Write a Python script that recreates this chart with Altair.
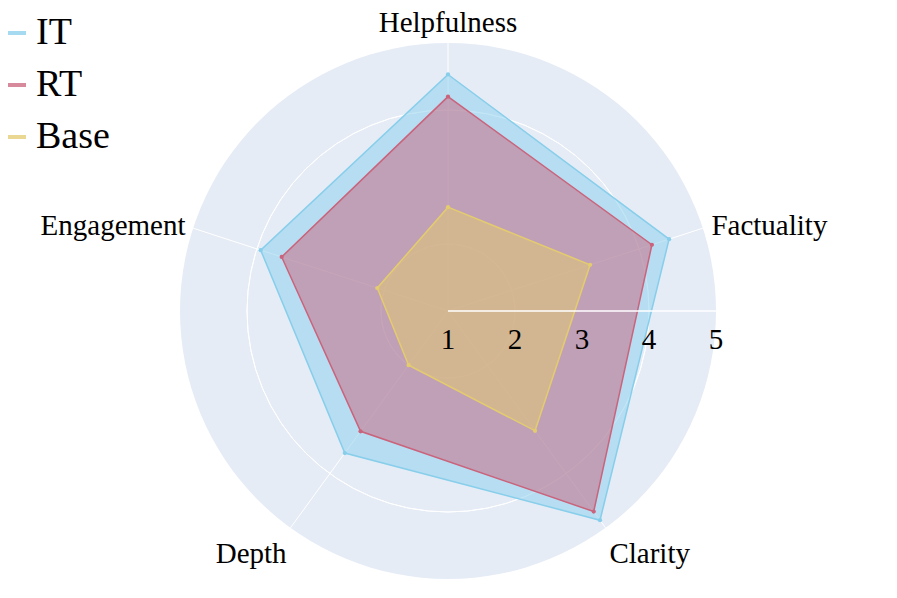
import math
import altair as alt
import pandas as pd

categories = ["Helpfulness", "Factuality", "Clarity", "Depth", "Engagement"]
models = ["IT", "RT", "Base"]
it_scores = [4.53, 4.47, 4.86, 3.62, 3.94]
rt_scores = [4.20, 4.20, 4.70, 3.22, 3.61]
base_scores = [2.55, 3.23, 3.21, 2.00, 2.11]
radial_ticks = [1, 2, 3, 4, 5]
grid_ticks = [2, 3, 4]
model_colors = ["#87CEEB", "#CA637C", "#E4CC6E"]

R_MIN, R_MAX = radial_ticks[0], radial_ticks[-1]
SPAN = R_MAX - R_MIN
PLOT = 536
FONT = "Liberation Serif"
N = len(categories)

rows = []
for m, vals in zip(models, [it_scores, rt_scores, base_scores]):
    for i, (c, v) in enumerate(zip(categories, vals)):
        rows.append({"model": m, "category": c, "value": v, "idx": i, "angle": i * 360 / N})
scores = pd.DataFrame(rows)
axes_df = pd.DataFrame({"category": categories, "idx": list(range(N)),
                        "angle": [i * 360 / N for i in range(N)]})
ticks_df = pd.DataFrame({"tick": radial_ticks})
grid_df = pd.DataFrame({"tick": grid_ticks})
disc_df = pd.DataFrame({"tick": [R_MAX]})

xs = alt.Scale(domain=[-SPAN, SPAN], nice=False, zero=False)
ys = alt.Scale(domain=[-SPAN, SPAN], nice=False, zero=False)
rs = alt.Scale(type="linear", domain=[0, SPAN], range=[0, PLOT / 2], zero=True, nice=False)
cs = alt.Scale(domain=models, range=model_colors)

legend = alt.Legend(orient="none", legendX=-182, legendY=-29, title=None,
                    symbolType="stroke", symbolSize=324, symbolStrokeWidth=4,
                    symbolOpacity=0.75, labelFont=FONT, labelFontSize=38,
                    labelColor="black", rowPadding=14, labelOffset=0, padding=0)

def X(f):
    return alt.X(f, type="quantitative", scale=xs, axis=None)

def Y(f):
    return alt.Y(f, type="quantitative", scale=ys, axis=None)

# background disc
disc = alt.Chart(disc_df).transform_calculate(rr=f"datum.tick - {R_MIN}").mark_arc(
    theta=0, theta2=2 * math.pi, color="#E5ECF6"
).encode(radius=alt.Radius("rr:Q", scale=rs))

# grid circles
grid = alt.Chart(grid_df).transform_calculate(rr=f"datum.tick - {R_MIN}").mark_arc(
    theta=0, theta2=2 * math.pi, filled=False, color="white", strokeWidth=1
).encode(radius=alt.Radius("rr:Q", scale=rs))

# angular grid lines
spokes = alt.Chart(axes_df).transform_calculate(
    x0="0", y0="0",
    x1=f"{SPAN} * sin(datum.angle * PI / 180)",
    y1=f"{SPAN} * cos(datum.angle * PI / 180)",
).mark_rule(color="white", strokeWidth=1).encode(
    x=X("x0"), y=Y("y0"), x2="x1:Q", y2="y1:Q"
)

def poly_layer(m):
    base = alt.Chart(scores).transform_filter(alt.datum.model == m).transform_calculate(
        rr=f"datum.value - {R_MIN}"
    ).transform_calculate(
        px="datum.rr * sin(datum.angle * PI / 180)",
        py="datum.rr * cos(datum.angle * PI / 180)",
    )
    line = base.mark_line(interpolate="linear-closed", strokeWidth=1.5, fillOpacity=0.5).encode(
        x=X("px"), y=Y("py"), order="idx:O",
        color=alt.Color("model:N", scale=cs, legend=legend),
        fill=alt.Fill("model:N", scale=cs, legend=None),
    )
    pts = base.mark_point(filled=True, size=18, opacity=1).encode(
        x=X("px"), y=Y("py"),
        color=alt.Color("model:N", scale=cs, legend=legend),
    )
    return line + pts

polys = [poly_layer(m) for m in models]

# radial axis line
raxis = alt.Chart(ticks_df).transform_aggregate(lo="min(tick)", hi="max(tick)").transform_calculate(
    x0=f"datum.lo - {R_MIN}", x1=f"datum.hi - {R_MIN}", y0="0"
).mark_rule(color="white", strokeWidth=1.5).encode(x=X("x0"), y=Y("y0"), x2="x1:Q")

rlabels = alt.Chart(ticks_df).transform_calculate(
    tx=f"datum.tick - {R_MIN}", ty="0"
).mark_text(font=FONT, fontSize=29, color="black", baseline="middle", align="center", dy=29).encode(
    x=X("tx"), y=Y("ty"), text="tick:Q"
)

LR = SPAN + 0.15
label_base = alt.Chart(axes_df).transform_calculate(
    s="sin(datum.angle * PI / 180)", c="cos(datum.angle * PI / 180)"
).transform_calculate(
    lx=f"{LR} * datum.s", ly=f"{LR} * datum.c"
)

def label_layer(cond, align, baseline, dx=0, dy=0):
    return label_base.transform_filter(cond).mark_text(
        font=FONT, fontSize=29, color="black", align=align, baseline=baseline, dx=dx, dy=dy
    ).encode(x=X("lx"), y=Y("ly"), text="category:N")

labels = [
    label_layer("abs(datum.s) < 0.1 && datum.c > 0", "center", "alphabetic", 0, -1),
    label_layer("datum.s >= 0.1 && datum.c >= 0", "left", "middle", -1, 1),
    label_layer("datum.s >= 0.1 && datum.c < 0", "left", "top", -2, 4),
    label_layer("datum.s <= -0.1 && datum.c >= 0", "right", "middle", 2, 1),
    label_layer("datum.s <= -0.1 && datum.c < 0", "right", "top", 2, 4),
]

chart = alt.layer(disc, grid, spokes, *polys, raxis, rlabels, *labels).properties(
    width=PLOT, height=PLOT,
    autosize=alt.AutoSizeParams(type="none"),
    padding={"left": 172, "top": 35, "right": 173, "bottom": 11},
    background="white",
).configure_view(stroke=None)

chart.save("out.html", embed_options={"renderer": "svg", "actions": False})
